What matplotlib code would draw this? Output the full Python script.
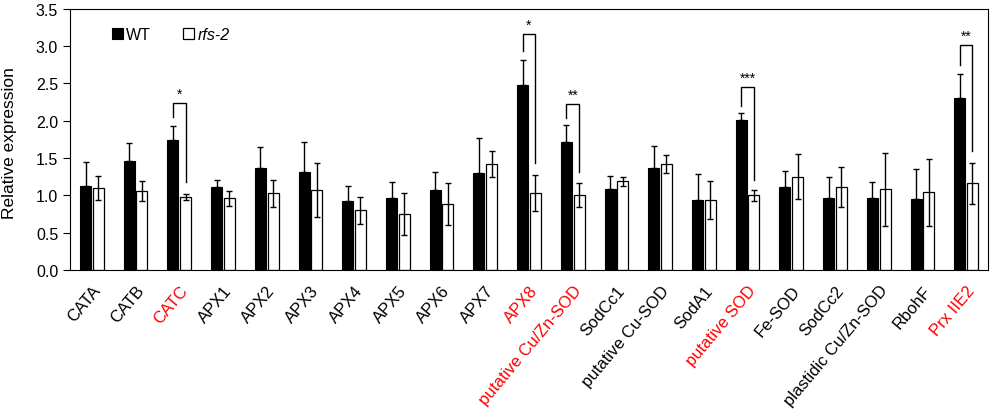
import matplotlib.pyplot as plt
import numpy as np

plt.rcParams['font.family'] = ['Liberation Sans', 'DejaVu Sans']

genes = ['CATA', 'CATB', 'CATC', 'APX1', 'APX2', 'APX3', 'APX4', 'APX5', 'APX6', 'APX7',
         'APX8', 'putative Cu/Zn-SOD', 'SodCc1', 'putative Cu-SOD', 'SodA1', 'putative SOD',
         'Fe-SOD', 'SodCc2', 'plastidic Cu/Zn-SOD', 'RbohF', 'Prx IIE2']
red_genes = ['CATC', 'APX8', 'putative Cu/Zn-SOD', 'putative SOD', 'Prx IIE2']

wt = [1.12, 1.46, 1.74, 1.11, 1.37, 1.32, 0.92, 0.96, 1.07, 1.30,
      2.48, 1.72, 1.08, 1.37, 0.94, 2.01, 1.11, 0.97, 0.96, 0.95, 2.31]
wt_err = [0.33, 0.24, 0.19, 0.10, 0.28, 0.39, 0.21, 0.22, 0.24, 0.47,
          0.34, 0.23, 0.18, 0.29, 0.34, 0.10, 0.22, 0.28, 0.22, 0.41, 0.32]
rfs = [1.10, 1.06, 0.98, 0.96, 1.03, 1.07, 0.80, 0.75, 0.88, 1.42,
       1.03, 1.00, 1.19, 1.42, 0.94, 1.00, 1.25, 1.11, 1.08, 1.04, 1.16]
rfs_err = [0.16, 0.13, 0.045, 0.10, 0.18, 0.36, 0.18, 0.28, 0.28, 0.18,
           0.24, 0.16, 0.06, 0.12, 0.25, 0.07, 0.30, 0.27, 0.49, 0.45, 0.28]

# significance brackets: gene index, left end, right end, top, stars
sig_idx = [2, 10, 11, 15, 20]
sig_left = [2.05, 2.93, 2.04, 2.20, 2.75]
sig_right = [1.18, 1.44, 1.32, 1.21, 1.60]
sig_top = [2.24, 3.16, 2.23, 2.45, 3.02]
sig_stars = ['*', '*', '**', '***', '**']

fig = plt.figure(figsize=(10, 4.1), dpi=100)
ax = fig.add_axes([0.07, 0.339, 0.918, 0.637])

x = np.arange(len(genes))
w = 0.25
off = 0.145
ax.bar(x - off, wt, w, color='black', edgecolor='black', linewidth=0.8, label='WT', zorder=2)
ax.bar(x + off, rfs, w, color='white', edgecolor='black', linewidth=0.9, label='rfs-2', zorder=2)
ax.errorbar(x - off, wt, yerr=[np.zeros(len(wt)), wt_err], fmt='none', ecolor='black',
            elinewidth=1, capsize=2, capthick=1, zorder=3)
ax.errorbar(x + off, rfs, yerr=rfs_err, fmt='none', ecolor='black',
            elinewidth=1, capsize=2, capthick=1, zorder=3)

for i, yl, yr, yt, s in zip(sig_idx, sig_left, sig_right, sig_top, sig_stars):
    ax.plot([i - off, i - off, i + off, i + off], [yl, yt, yt, yr], color='black', lw=1)
    ax.text(i, yt + 0.03, s, ha='center', va='bottom', fontsize=10)

ax.set_xlim(-0.5, len(genes) - 0.5)
ax.set_ylim(0, 3.5)
ax.set_yticks(np.arange(0, 3.51, 0.5))
ax.set_yticklabels([f'{v:.1f}' for v in np.arange(0, 3.51, 0.5)], fontsize=11.5)
ax.set_ylabel('Relative expression', fontsize=12.5)
ax.yaxis.set_label_coords(-0.0575, 0.49)
ax.tick_params(axis='y', direction='out', length=5)
ax.set_xticks(x)
ax.set_xticklabels(genes, rotation=50, ha='right', rotation_mode='anchor', fontsize=12)
ax.tick_params(axis='x', length=0, pad=9)
for lbl in ax.get_xticklabels():
    if lbl.get_text() in red_genes:
        lbl.set_color('red')

leg = ax.legend(loc='upper left', bbox_to_anchor=(0.03, 0.985), ncol=2, frameon=False,
                fontsize=11.5, handlelength=0.7, handleheight=0.7, handletextpad=0.2,
                columnspacing=2.0)
leg.get_texts()[1].set_fontstyle('italic')

fig.savefig('out.png', dpi=100)
